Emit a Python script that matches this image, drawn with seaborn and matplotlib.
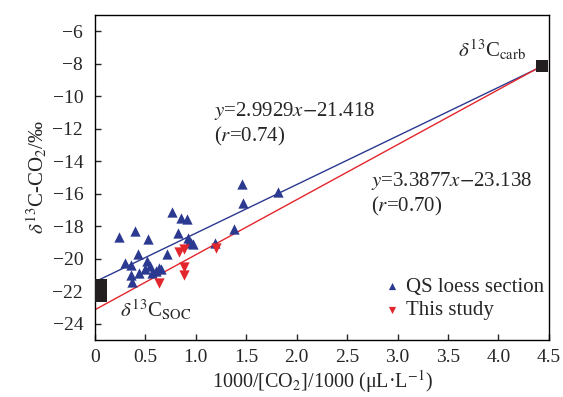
import matplotlib
matplotlib.use("Agg")
import matplotlib.pyplot as plt
import numpy as np
import pandas as pd
import seaborn as sns

# QS loess section (blue, up triangles)
qs_x = [0.24, 0.40, 0.53, 0.76, 0.85, 0.91, 0.82, 0.92, 0.95, 0.97, 0.71, 0.43,
        0.30, 0.36, 0.52, 0.55, 0.63, 0.50, 0.57, 0.44, 0.36, 0.37, 0.65, 0.60,
        1.46, 1.47, 1.81, 1.38, 1.19, 0.93]
qs_y = [-18.65, -18.27, -18.79, -17.14, -17.51, -17.55, -18.44, -18.73, -19.00, -19.10,
        -19.68, -19.72, -20.24, -20.39, -20.14, -20.45, -20.55, -20.66, -20.86, -20.86,
        -21.00, -21.42, -20.60, -20.75, -15.37, -16.58, -15.89, -18.17, -19.06, -18.95]
# this study (red, down triangles)
ts_x = [0.83, 0.88, 0.88, 0.88, 0.63, 1.20]
ts_y = [-19.56, -19.42, -20.51, -21.00, -21.48, -19.31]

# end members (SOC and carbonate)
end_x = [0.055, 0.055, 4.43]
end_y = [-21.6, -22.3, -8.14]

# fitted lines: slope, intercept
fit_qs = (2.9929, -21.418)
fit_ts = (3.3877, -23.138)
fit_range = [0.0, 4.43]

blue = "#2b3990"
red = "#e3262c"

sns.set_style("ticks")
plt.rcParams["font.family"] = ["Liberation Serif", "DejaVu Serif"]
plt.rcParams["mathtext.fontset"] = "stix"
plt.rcParams["axes.unicode_minus"] = True

fig = plt.figure(figsize=(5.63, 3.97), dpi=100)
ax = fig.add_axes([0.1687, 0.1436, 0.8063, 0.8184])

xs = np.array(fit_range)
lines = pd.DataFrame({
    "x": np.concatenate([xs, xs]),
    "y": np.concatenate([fit_qs[0] * xs + fit_qs[1], fit_ts[0] * xs + fit_ts[1]]),
    "g": ["qs", "qs", "ts", "ts"],
})
sns.lineplot(data=lines, x="x", y="y", hue="g", palette={"qs": blue, "ts": red},
             linewidth=1.0, legend=False, ax=ax)

sns.scatterplot(x=qs_x, y=qs_y, marker="^", color=blue, s=55, linewidth=0,
                ax=ax, label="QS loess section", zorder=3)
sns.scatterplot(x=ts_x, y=ts_y, marker="v", color=red, s=55, linewidth=0,
                ax=ax, label="This study", zorder=3)
ax.scatter(end_x, end_y, marker="s", s=72, color="#231f20", linewidth=0,
           zorder=4, clip_on=False)

ax.set_xlim(0, 4.5)
ax.set_ylim(-25, -5)
ax.set_xticks(np.arange(0, 4.51, 0.5))
ax.set_xticklabels(["0"] + [f"{v:.1f}" for v in np.arange(0.5, 4.51, 0.5)])
ax.set_yticks(np.arange(-24, -5, 2))
ax.set_yticklabels([f"\u2212{abs(v)}" for v in range(-24, -5, 2)])
ax.tick_params(direction="in", length=4, width=1, labelsize=14)
ax.tick_params(axis="x", pad=6.5)
ax.tick_params(axis="y", pad=8.5)
for sp in ax.spines.values():
    sp.set_linewidth(1.0)
    sp.set_color("black")

ax.set_xlabel("1000/[CO$_2$]/1000 (\u03bcL\u00b7L$^{-1}$)", fontsize=14.5)
ax.set_ylabel(r"$\delta^{13}$C-CO$_2$/‰", fontsize=15)
ax.yaxis.set_label_coords(-0.10, 0.5)
ax.xaxis.set_label_coords(0.5, -0.085)

fs = 15
ax.text(1.18, -11.2, r"$y$=2.9929$x$$-$21.418", fontsize=fs)
ax.text(1.18, -12.75, r"($r$=0.74)", fontsize=fs)
ax.text(2.74, -15.52, r"$y$=3.3877$x$$-$23.138", fontsize=fs)
ax.text(2.74, -17.12, r"($r$=0.70)", fontsize=fs)
ax.text(3.60, -7.58, r"$\delta^{13}$C$_{\rm carb}$", fontsize=fs)
ax.text(0.25, -23.6, r"$\delta^{13}$C$_{\rm SOC}$", fontsize=fs)

ax.legend(loc="lower right", bbox_to_anchor=(0.99, 0.06), frameon=False,
          fontsize=15, handlelength=0.8, handletextpad=0.3, markerscale=0.7,
          labelspacing=0.2, borderpad=0, borderaxespad=0)

fig.savefig("out.png", dpi=100)
